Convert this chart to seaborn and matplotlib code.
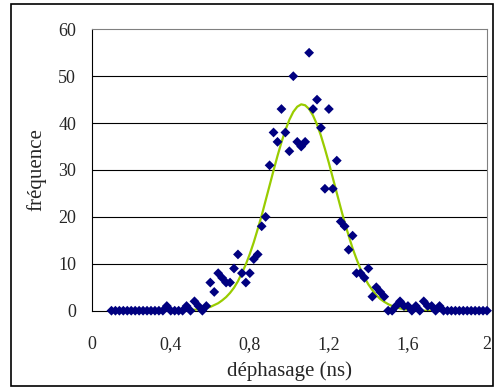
import numpy as np
import pandas as pd
import matplotlib
matplotlib.use("Agg")
import matplotlib.pyplot as plt
import seaborn as sns
from matplotlib.patches import Rectangle

# phase shift bins (ns), step 0.02 from 0.10 to 2.00
dephasage = np.round(np.arange(0.10, 2.001, 0.02), 2)

# measured frequency per bin
frequence = [0] * 14 + [1, 0, 0, 0, 0, 1, 0] + [
    2, 1, 0, 1,
    6, 4, 8, 7, 6, 6, 9, 12, 8, 6, 8, 11, 12, 18, 20, 31, 38, 36, 43, 38,
    34, 50, 36, 35, 36, 55, 43, 45, 39, 26, 43, 26, 32, 19, 18, 13, 16, 8, 8, 7,
    9, 3, 5, 4, 3, 0, 0, 1, 2, 1, 1, 0, 1, 0, 2, 1, 1, 0, 1,
] + [0] * 12

# fitted curve
ajustement = [0] * 20 + [
    0.1, 0.2, 0.3, 0.4, 0.6, 0.8, 1.2, 1.6, 2.2, 2.9, 3.8, 4.9, 6.3, 8.0, 9.9,
    12.1, 14.6, 17.4, 20.3, 23.5, 26.7, 29.9, 33.0, 35.9, 38.5,
    40.7, 42.4, 43.5, 44.0, 43.8, 43.0, 41.6, 39.7, 37.3, 34.5, 31.5, 28.3,
    25.1, 21.9, 18.8, 16.0, 13.3, 11.0, 8.9, 7.1, 5.6, 4.4, 3.3, 2.5, 1.9,
    1.4, 1.0, 0.7, 0.5, 0.3, 0.2, 0.2, 0.1,
] + [0] * 18

xticks = [0, 0.4, 0.8, 1.2, 1.6, 2]
xtick_labels = ["0", "0,4", "0,8", "1,2", "1,6", "2"]

df = pd.DataFrame({"x": dephasage, "freq": frequence, "fit": ajustement})

sns.set_style("white")
plt.rcParams["font.family"] = ["Liberation Serif", "DejaVu Serif"]

fig = plt.figure(figsize=(4.95, 3.89), dpi=100)
ax = fig.add_axes([91.7 / 495, 1 - 310.7 / 389, (487 - 91.7) / 495, (310.7 - 29.3) / 389])

for v in range(10, 60, 10):
    ax.axhline(v, color="black", lw=0.8, zorder=0)

sns.lineplot(data=df, x="x", y="fit", color="#99CC00", lw=1.6, ax=ax, zorder=2)
sns.scatterplot(data=df, x="x", y="freq", marker="D", s=25, color="#000080",
                edgecolor="none", ax=ax, zorder=3, clip_on=False)

ax.set_xlim(0, 2)
ax.set_ylim(0, 60)
ax.set_xticks(xticks)
ax.set_xticklabels(xtick_labels)
ax.set_yticks(range(0, 61, 10))
ax.tick_params(axis="both", direction="out", length=4.3, width=0.8,
               color="black", labelsize=13)
ax.tick_params(axis="x", pad=14)
ax.tick_params(axis="y", pad=7)

for s in ["top", "right"]:
    ax.spines[s].set_color("#808080")
    ax.spines[s].set_linewidth(0.8)
for s in ["left", "bottom"]:
    ax.spines[s].set_color("black")
    ax.spines[s].set_linewidth(0.8)

ax.set_xlabel("déphasage (ns)", fontsize=15, labelpad=6)
ax.set_ylabel("fréquence", fontsize=15, labelpad=8)

fig.add_artist(Rectangle((11 / 495, 3 / 389), 482 / 495, 382 / 389,
                         transform=fig.transFigure, fill=False,
                         edgecolor="black", lw=1.2))

fig.savefig("out.png", dpi=100)
